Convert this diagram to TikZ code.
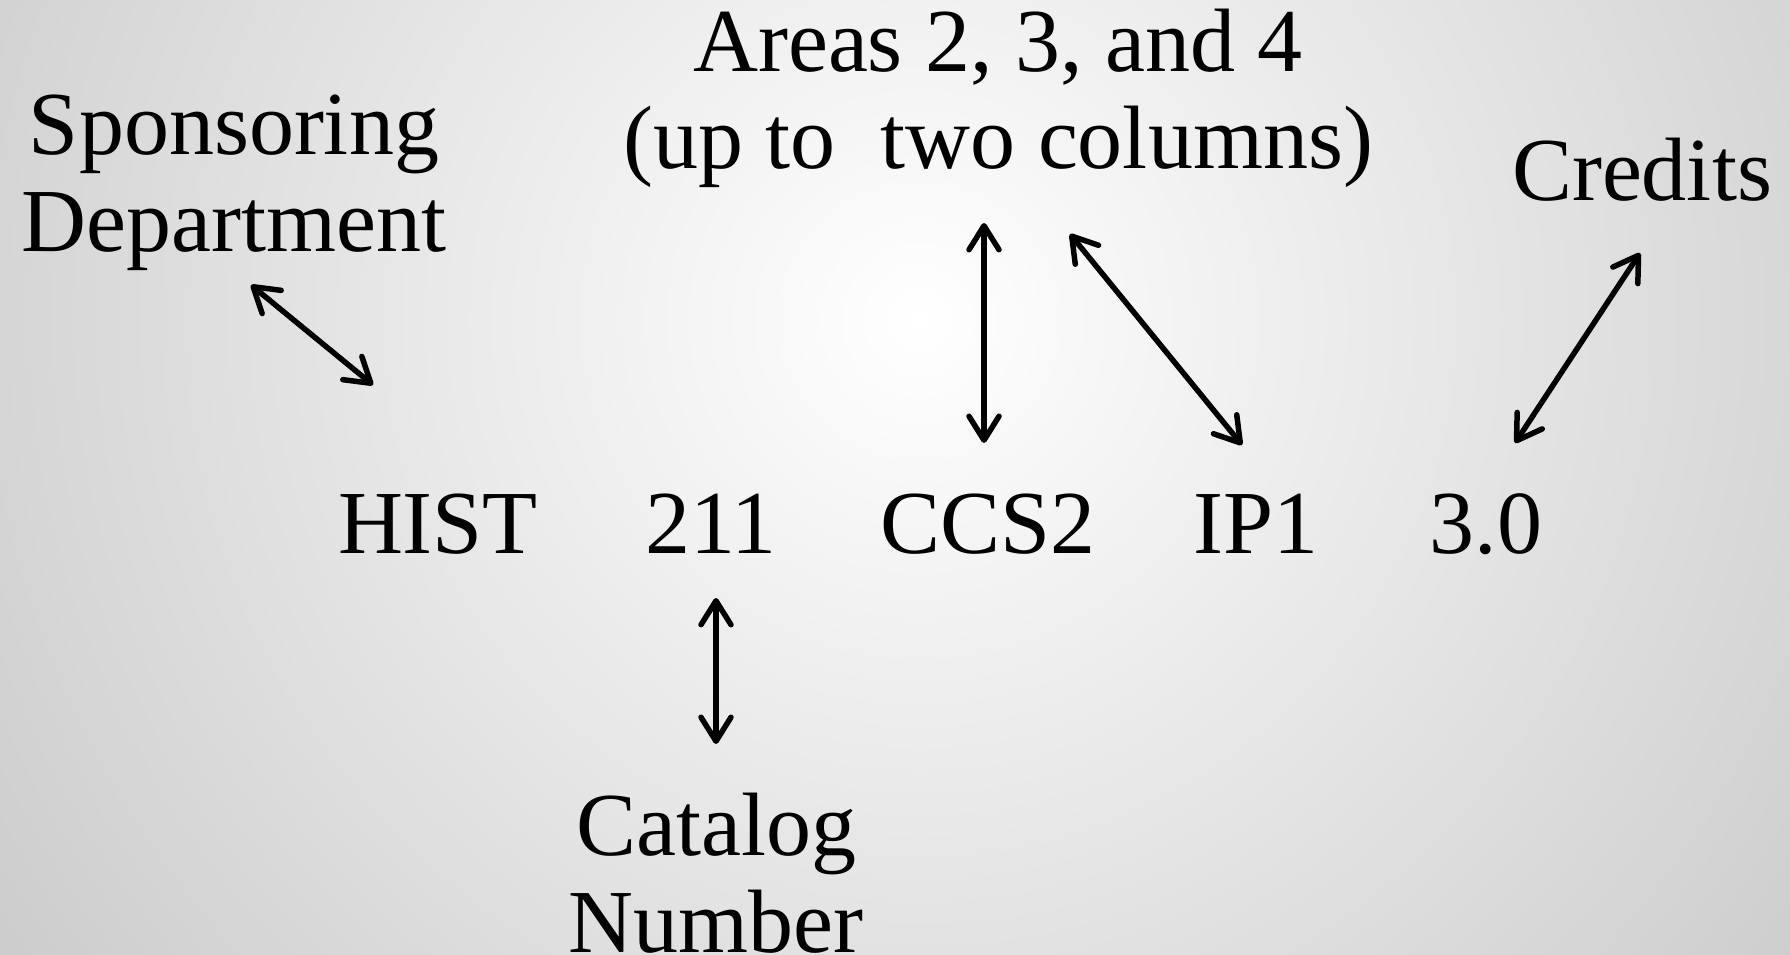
\documentclass[tikz,border=0pt]{standalone}
\usepackage{fontspec}
\setmainfont{Liberation Serif}
\usetikzlibrary{arrows.meta}
\begin{document}
\begin{tikzpicture}[x=1pt,y=-1pt,
  lbl/.style={inner sep=0pt,anchor=base,font=\fontsize{90}{97}\selectfont},
  dbl/.style={line width=5.5pt,{Straight Barb[length=24pt,width=30pt,round]}-{Straight Barb[length=24pt,width=30pt,round]}}]
\useasboundingbox (0,0) rectangle (1790,955);
\begin{scope}
\clip (0,0) rectangle (1790,955);
\shade[inner color=white,outer color=black!40] (919,320) circle (2240);
\end{scope}
% labels
\node[lbl] (spons) at (234,154) {\begin{tabular}[t]{@{}c@{}}Sponsoring\\Department\end{tabular}};
\node[lbl] (areas) at (998,72) {\begin{tabular}[t]{@{}c@{}}Areas 2, 3, and 4\\(up to\ \ two columns)\end{tabular}};
\node[lbl] (cred) at (1642,200) {Credits};
\node[lbl] (hist) at (438,553) {HIST};
\node[lbl] (num) at (711,553) {211};
\node[lbl] (ccs) at (988,553) {CCS2};
\node[lbl] (ip) at (1256,553) {IP1};
\node[lbl] (cr) at (1486,553) {3.0};
\node[lbl] (cat) at (716,855) {\begin{tabular}[t]{@{}c@{}}Catalog\\Number\end{tabular}};
% arrow ends
\coordinate (a1) at (251,285);
\coordinate (b1) at (373,385);
\coordinate (a2) at (984,223);
\coordinate (b2) at (984,443);
\coordinate (a3) at (1070,234);
\coordinate (b3) at (1242,445);
\coordinate (a4) at (1640,253);
\coordinate (b4) at (1515,443);
\coordinate (a5) at (716,598);
\coordinate (b5) at (716,744);
\draw[dbl] (a1) -- (b1);
\draw[dbl] (a2) -- (b2);
\draw[dbl] (a3) -- (b3);
\draw[dbl] (a4) -- (b4);
\draw[dbl] (a5) -- (b5);
\end{tikzpicture}
\end{document}
